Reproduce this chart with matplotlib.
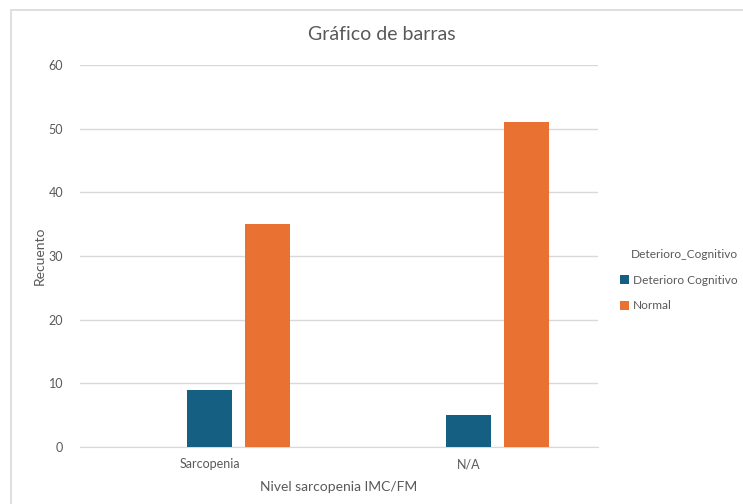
import numpy as np
import matplotlib.pyplot as plt
from matplotlib.patches import Rectangle

plt.rcParams['font.family'] = ['Lato', 'DejaVu Sans']

# recuento por nivel de sarcopenia
categorias = ['Sarcopenia', 'N/A']
series = ['Deterioro Cognitivo', 'Normal']
deterioro = [9, 5]
normal = [35, 51]
colores = ['#156082', '#E97132']
gris = '#595959'

fig = plt.figure(figsize=(7.43, 5.04), dpi=100)
# marco del área del gráfico
fig.patches.append(Rectangle((11 / 743, -0.05), 1.0, 1 - 10 / 504 + 0.05,
                             transform=fig.transFigure, fill=False,
                             edgecolor='#D9D9D9', linewidth=1.2))

ax = fig.add_axes([80 / 743, 57 / 504, 518 / 743, 382 / 504])
x = np.arange(len(categorias))
ancho = 0.174
ax.bar(x, deterioro, ancho, color=colores[0], label=series[0], zorder=3)
ax.bar(x + 0.224, normal, ancho, color=colores[1], label=series[1], zorder=3)

ax.set_xlim(-0.5, 1.5)
ax.set_ylim(0, 60)
ax.set_yticks(range(0, 61, 10))
ax.set_xticks(x)
ax.set_xticklabels(categorias)
ax.grid(axis='y', color='#D9D9D9', linewidth=1, zorder=0)
for s in ['top', 'right', 'left']:
    ax.spines[s].set_visible(False)
ax.spines['bottom'].set_color('#D9D9D9')
ax.tick_params(length=0, colors=gris, labelsize=9)
ax.tick_params(axis='y', pad=12)
ax.tick_params(axis='x', pad=8)

ax.set_xlabel('Nivel sarcopenia IMC/FM', color=gris, fontsize=10, labelpad=8)
ax.set_ylabel('Recuento', color=gris, fontsize=10, labelpad=2)
fig.text(382 / 743, 1 - 35 / 504, 'Gráfico de barras', ha='center', va='center',
         color=gris, fontsize=14)

# leyenda: título aparte, alineado con el texto de las entradas
fig.text(631 / 743, 1 - 255 / 504, 'Deterioro_Cognitivo', ha='left', va='center',
         color=gris, fontsize=8.6)
leg = ax.legend(loc='upper left', bbox_to_anchor=(620 / 743, 1 - 275 / 504),
                bbox_transform=fig.transFigure, frameon=False,
                borderaxespad=0, borderpad=0,
                fontsize=8.6, handlelength=0.75, handleheight=0.75,
                handletextpad=0.3, labelspacing=1.2)
for t in leg.get_texts():
    t.set_color(gris)

fig.savefig('out.png', dpi=100)
